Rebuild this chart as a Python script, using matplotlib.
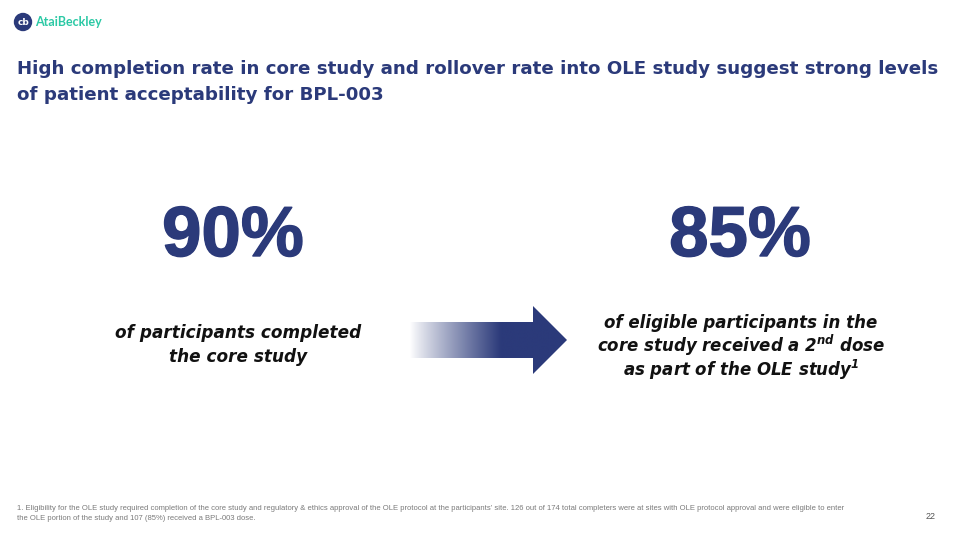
import numpy as np
import matplotlib
matplotlib.use("Agg")
import matplotlib.pyplot as plt
import matplotlib.patheffects as pe
from matplotlib.patches import Polygon, Circle

# slide content
title_lines = [
    "High completion rate in core study and rollover rate into OLE study suggest strong levels",
    "of patient acceptability for BPL-003",
]
stat_values = [90, 85]
stat_centers = [233, 740]
stat_captions = [
    ["of participants completed", "the core study"],
    ["of eligible participants in the",
     "core study received a 2$^{\\mathrm{nd}}$ dose",
     "as part of the OLE study$^{\\mathrm{1}}$"],
]
footnote_lines = [
    "1. Eligibility for the OLE study required completion of the core study and regulatory & ethics approval of the OLE protocol at the participants\u2019 site. 126 out of 174 total completers were at sites with OLE protocol approval and were eligible to enter",
    "the OLE portion of the study and 107 (85%) received a BPL-003 dose.",
]
page_number = "22"

NAVY = "#2B3A7A"
TEAL = "#2CC9A5"

plt.rcParams["mathtext.fontset"] = "custom"
plt.rcParams["mathtext.rm"] = "DejaVu Sans:italic:bold"
plt.rcParams["mathtext.it"] = "DejaVu Sans:italic:bold"

fig = plt.figure(figsize=(9.6, 5.4), dpi=100)
ax = fig.add_axes([0, 0, 1, 1])
ax.set_xlim(0, 960)
ax.set_ylim(540, 0)
ax.axis("off")

# logo
ax.add_patch(Circle((23, 22), 8.5, color=NAVY))
ax.text(23, 22.5, "cb", color="white", fontsize=6.5, fontweight="bold",
        ha="center", va="center", family="DejaVu Sans")
ax.text(35, 22.5, "AtaiBeckley", color=TEAL, fontsize=9, fontweight="bold",
        ha="left", va="center", family="Lato")

# title, sized so the first line runs from x=17 to x=941
title_texts = [
    ax.text(17, 74 + i * 26, line, color=NAVY, fontsize=14, fontweight="bold",
            ha="left", va="baseline", family="DejaVu Sans")
    for i, line in enumerate(title_lines)
]
renderer = fig.canvas.get_renderer()
w = title_texts[0].get_window_extent(renderer).width
for t_ in title_texts:
    t_.set_fontsize(14 * 924 / w)

# big numbers and captions
for val, cx in zip(stat_values, stat_centers):
    ax.text(cx, 256, f"{val}%", color=NAVY, fontsize=51, fontweight="bold",
            ha="center", va="baseline", family="Liberation Sans",
            path_effects=[pe.withStroke(linewidth=1, foreground=NAVY)])
for j, line in enumerate(stat_captions[0]):
    ax.text(238, 338 + j * 24.5, line, color="#111111", fontsize=12.2,
            fontweight="bold", style="italic", ha="center", va="baseline",
            family="DejaVu Sans")
for j, line in enumerate(stat_captions[1]):
    ax.text(741, 328 + j * 24, line, color="#111111", fontsize=12,
            fontweight="bold", style="italic", ha="center", va="baseline",
            family="DejaVu Sans")

# gradient arrow
arrow_pts = [(410, 322), (533, 322), (533, 306), (567, 340),
             (533, 374), (533, 358), (410, 358)]
arrow = Polygon(arrow_pts, closed=True, facecolor="none", edgecolor="none")
ax.add_patch(arrow)
navy_rgb = np.array(matplotlib.colors.to_rgb(NAVY))
t = np.clip(np.linspace(0, 1, 300) / 0.58, 0, 1) ** 0.9
grad = (1 - t)[:, None] * np.ones(3) + t[:, None] * navy_rgb
img = np.tile(grad[None, :, :], (2, 1, 1))
im = ax.imshow(img, extent=(410, 567, 374, 306), aspect="auto",
               interpolation="bilinear", zorder=2)
im.set_clip_path(arrow)
ax.set_xlim(0, 960)
ax.set_ylim(540, 0)

# footnote
for k, line in enumerate(footnote_lines):
    ax.text(17, 510 + k * 10, line, color="#7A7A7A", fontsize=5.5,
            ha="left", va="baseline", family="Liberation Sans")
ax.text(936, 519, page_number, color="#555555", fontsize=6.5,
        ha="right", va="baseline", family="Liberation Sans")

fig.savefig("out.png", dpi=100, facecolor="white")
